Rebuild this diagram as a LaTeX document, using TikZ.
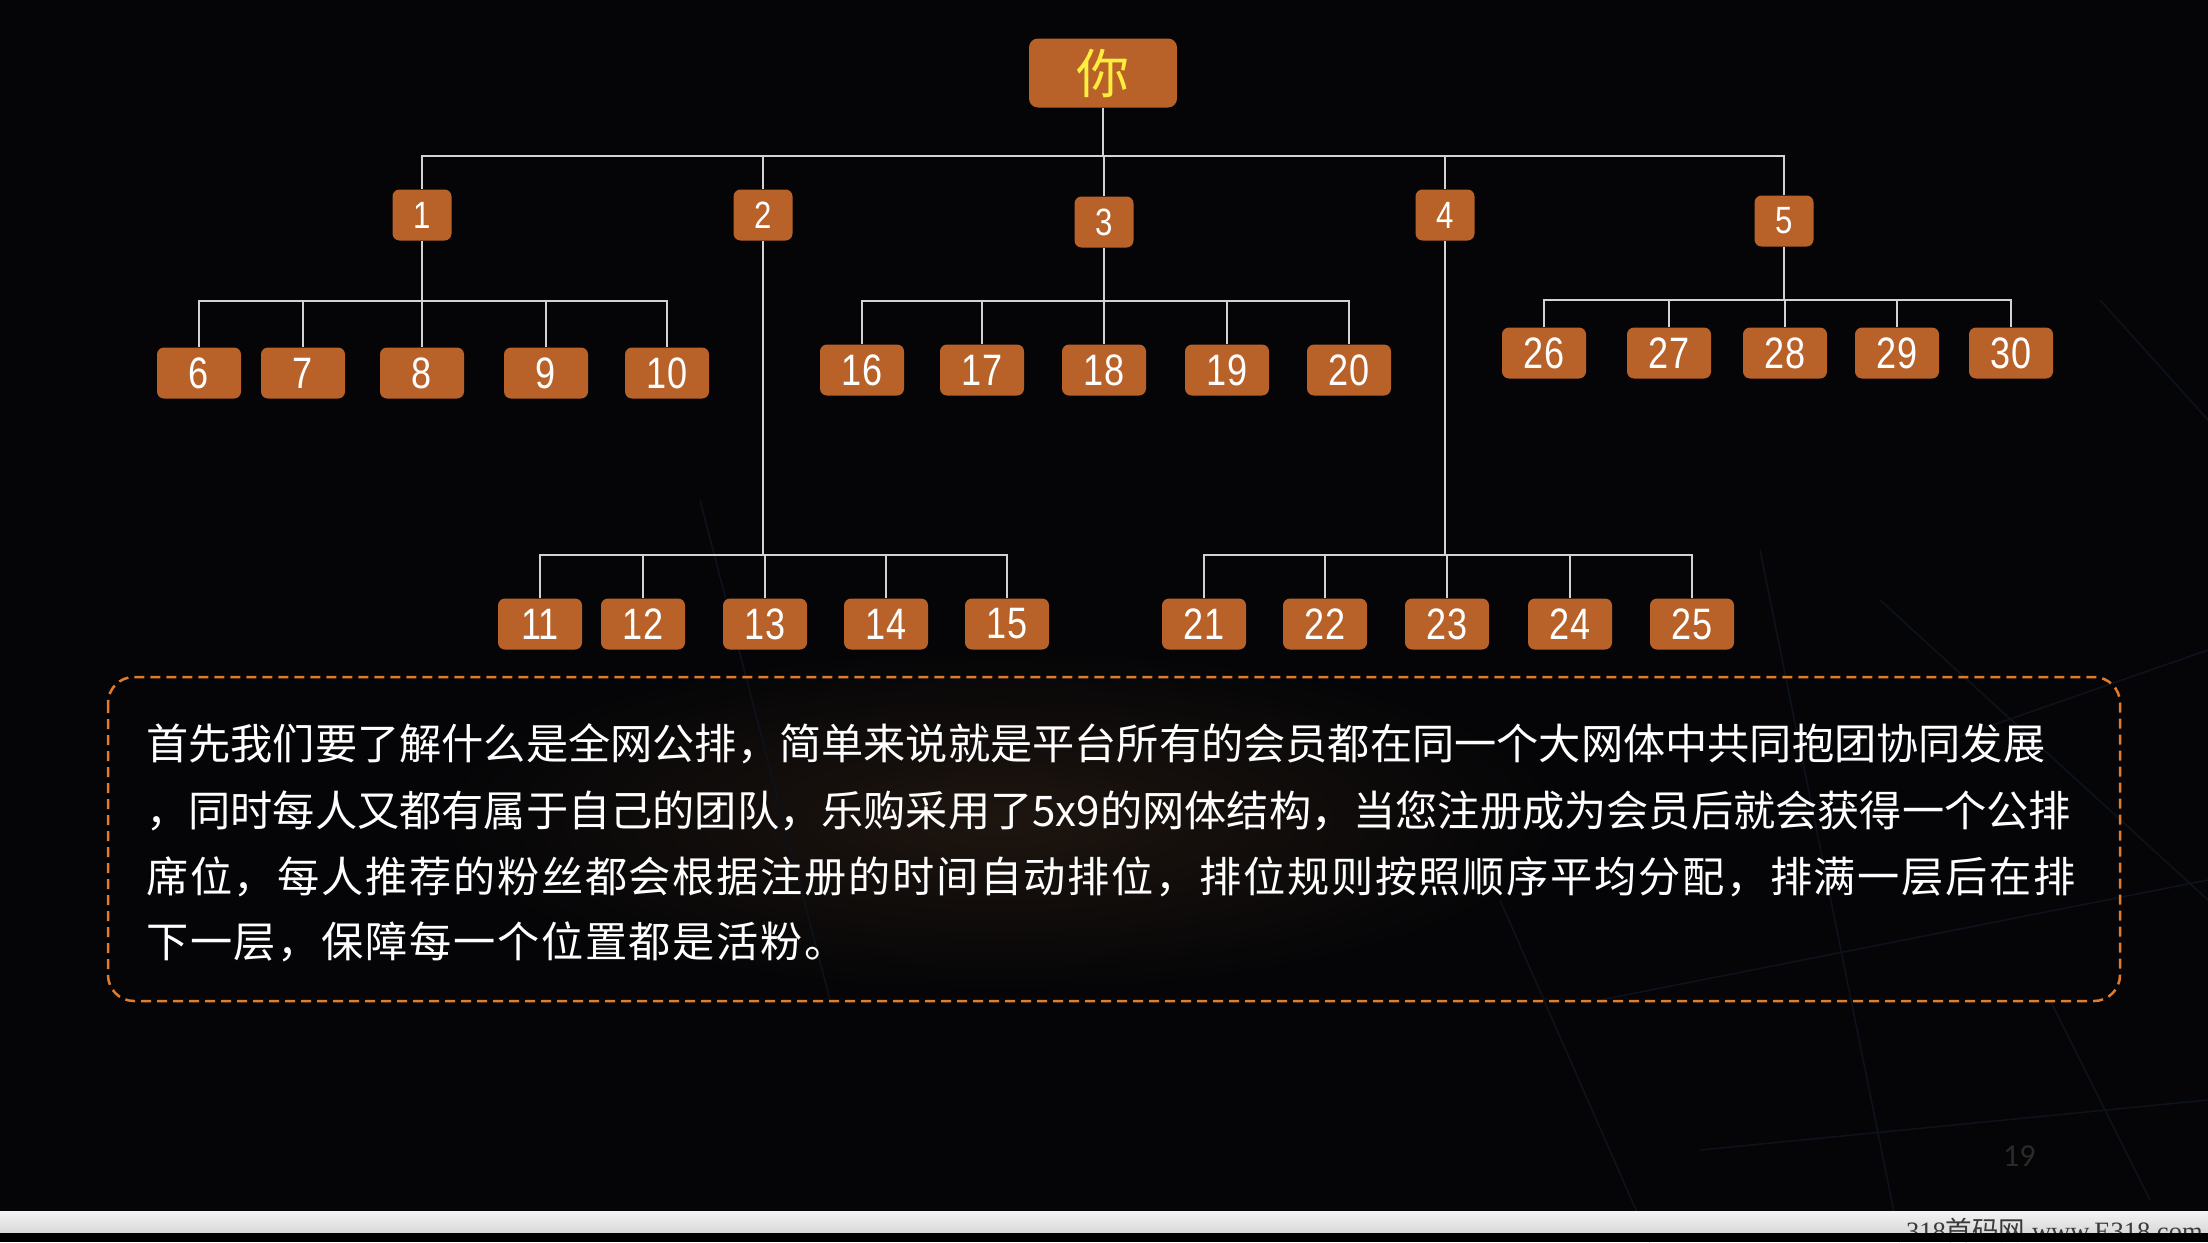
\documentclass[tikz,border=0pt]{standalone}
\usepackage{fontspec}
\setmainfont{Liberation Sans}
\newfontfamily\cjk{Noto Sans CJK SC}
\newfontfamily\cjkwide[LetterSpace=4]{Noto Sans CJK SC}
\newfontfamily\numfont[FakeStretch=0.82]{Liberation Sans}
\newfontfamily\pgfont{Carlito}
\newfontfamily\wmserif{Liberation Serif}
\definecolor{bg}{HTML}{050507}
\definecolor{glow}{HTML}{1E150F}
\definecolor{boxor}{HTML}{B8622A}
\definecolor{linegray}{HTML}{D2D2D2}
\definecolor{dashor}{HTML}{E07C2C}
\definecolor{youyel}{HTML}{FFEE3D}
\definecolor{netline}{HTML}{0D131C}
\definecolor{pagenum}{HTML}{2C2926}
\definecolor{stripA}{HTML}{F4F4F4}
\definecolor{stripB}{HTML}{D8D8D8}
\definecolor{wmtext}{HTML}{3A3A3A}
\tikzset{
  lvone/.style={rectangle, rounded corners=7pt, fill=boxor, minimum width=59pt, minimum height=51pt, inner sep=0pt, text=white, font=\numfont\fontsize{38}{38}\selectfont},
  lvtwo/.style={rectangle, rounded corners=7pt, fill=boxor, minimum width=84pt, minimum height=51pt, inner sep=0pt, text=white, font=\numfont\fontsize{44}{44}\selectfont},
  conn/.style={draw=linegray, line width=2pt},
  net/.style={draw=netline, line width=1.5pt},
  para/.style={anchor=base west, inner sep=0pt, text=white},
}
\begin{document}
\begin{tikzpicture}[x=1pt, y=-1pt]
\useasboundingbox (0,0) rectangle (2208,1242);
\fill[bg] (0,0) rectangle (2208,1242);
\shade[inner color=glow, outer color=bg] (1000,820) ellipse (560 and 170);
% faint network background
\draw[net] (1760,550) -- (1900,1242);
\draw[net] (1880,600) -- (2208,900);
\draw[net] (1600,1000) -- (2208,880);
\draw[net] (1950,740) -- (2208,650);
\draw[net] (2100,300) -- (2208,420);
\draw[net] (1700,1150) -- (2208,1100);
\draw[net] (1500,900) -- (1650,1242);
\draw[net] (2050,1000) -- (2150,1200);
\draw[net] (700,500) -- (830,1000);
% root
\node[rectangle, rounded corners=9pt, fill=boxor, minimum width=148pt, minimum height=69pt, inner sep=0pt, text=youyel, font=\cjk\fontsize{53}{53}\selectfont] (root) at (1103,73) {你};
% level 1
\node[lvone] (n1) at (422,215) {1};
\node[lvone] (n2) at (763,215) {2};
\node[lvone] (n3) at (1104,222) {3};
\node[lvone] (n4) at (1445,215) {4};
\node[lvone] (n5) at (1784,221) {5};
% level 2
\node[lvtwo] (n6) at (199,373) {6};
\node[lvtwo] (n7) at (303,373) {7};
\node[lvtwo] (n8) at (422,373) {8};
\node[lvtwo] (n9) at (546,373) {9};
\node[lvtwo] (n10) at (667,373) {10};
\node[lvtwo] (n16) at (862,370) {16};
\node[lvtwo] (n17) at (982,370) {17};
\node[lvtwo] (n18) at (1104,370) {18};
\node[lvtwo] (n19) at (1227,370) {19};
\node[lvtwo] (n20) at (1349,370) {20};
\node[lvtwo] (n26) at (1544,353) {26};
\node[lvtwo] (n27) at (1669,353) {27};
\node[lvtwo] (n28) at (1785,353) {28};
\node[lvtwo] (n29) at (1897,353) {29};
\node[lvtwo] (n30) at (2011,353) {30};
\node[lvtwo] (n11) at (540,624) {11};
\node[lvtwo] (n12) at (643,624) {12};
\node[lvtwo] (n13) at (765,624) {13};
\node[lvtwo] (n14) at (886,624) {14};
\node[lvtwo] (n15) at (1007,624) {15};
\node[lvtwo] (n21) at (1204,624) {21};
\node[lvtwo] (n22) at (1325,624) {22};
\node[lvtwo] (n23) at (1447,624) {23};
\node[lvtwo] (n24) at (1570,624) {24};
\node[lvtwo] (n25) at (1692,624) {25};
% bar levels
\coordinate (y0) at (0,156);
\coordinate (yA) at (0,301);
\coordinate (yC) at (0,300);
\coordinate (yB) at (0,555);
% connectors
\foreach \c in {1,2,3,4,5}
  \draw[conn] (n\c.north) -- (n\c.north |- y0) -- (root.south |- y0) -- (root.south);
\foreach \c in {6,7,8,9,10}
  \draw[conn] (n\c.north) -- (n\c.north |- yA) -- (n1.south |- yA) -- (n1.south);
\foreach \c in {16,17,18,19,20}
  \draw[conn] (n\c.north) -- (n\c.north |- yA) -- (n3.south |- yA) -- (n3.south);
\foreach \c in {26,27,28,29,30}
  \draw[conn] (n\c.north) -- (n\c.north |- yC) -- (n5.south |- yC) -- (n5.south);
\foreach \c in {11,12,13,14,15}
  \draw[conn] (n\c.north) -- (n\c.north |- yB) -- (n2.south |- yB) -- (n2.south);
\foreach \c in {21,22,23,24,25}
  \draw[conn] (n\c.north) -- (n\c.north |- yB) -- (n4.south |- yB) -- (n4.south);
% text box
\draw[dashor, line width=2.5pt, dash pattern=on 10pt off 6pt, rounded corners=26pt] (108,677) rectangle (2120,1001);
\node[para, font=\cjk\fontsize{42.2}{42.2}\selectfont] (t1) at (146,759) {首先我们要了解什么是全网公排，简单来说就是平台所有的会员都在同一个大网体中共同抱团协同发展};
\node[para, font=\cjk\fontsize{42.2}{42.2}\selectfont] (t2) at (146,826) {，同时每人又都有属于自己的团队，乐购采用了5x9的网体结构，当您注册成为会员后就会获得一个公排};
\node[para, font=\cjkwide\fontsize{42.2}{42.2}\selectfont] (t3) at (146,892) {席位，每人推荐的粉丝都会根据注册的时间自动排位，排位规则按照顺序平均分配，排满一层后在排};
\node[para, font=\cjkwide\fontsize{42.2}{42.2}\selectfont] (t4) at (146,957) {下一层，保障每一个位置都是活粉。};
% page number
\node[anchor=base west, inner sep=0pt, text=pagenum, font=\pgfont\fontsize{32}{32}\selectfont] (pg) at (2003,1166) {19};
% bottom strip
\shade[top color=stripA, bottom color=stripB] (0,1211) rectangle (2208,1233);
\node[anchor=base west, inner sep=0pt, text=wmtext, font=\wmserif\fontsize{26.5}{26.5}\selectfont] (wm) at (1906,1240) {318{\cjk 首码网} www.E318.com};
\fill[black] (0,1233) rectangle (2208,1242);
\end{tikzpicture}
\end{document}
